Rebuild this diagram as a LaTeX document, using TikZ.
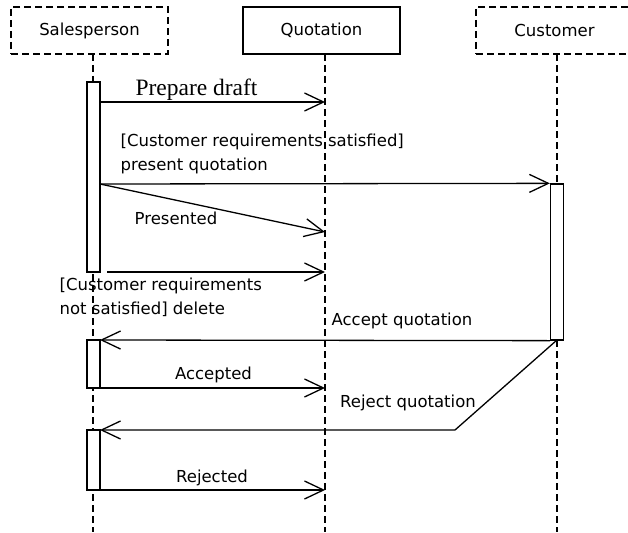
\documentclass[tikz,border=0pt]{standalone}
\usepackage{fontspec}
\setmainfont{DejaVu Sans}
\newfontfamily\serifa{Liberation Serif}
\usetikzlibrary{arrows.meta}
\begin{document}
\begin{tikzpicture}[x=1pt,y=-1pt,line width=1.3pt,
  txt/.style={font=\fontsize{16.5}{24}\selectfont, inner sep=0pt},
  head/.style={draw, minimum width=157pt, minimum height=47pt, inner sep=0pt, font=\fontsize{16.5}{20}\selectfont},
  dashedhead/.style={head, dash pattern=on 7pt off 4pt},
  life/.style={dash pattern=on 7pt off 4pt},
  act/.style={draw, fill=white, minimum width=13pt, inner sep=0pt},
  msg/.style={-{Straight Barb[length=19pt,width=18pt]}}]
\clip (0,0) rectangle (628,532);
\fill[white] (0,0) rectangle (628,532);
% heads
\node[dashedhead] (sp) at (89.5,30.5) {Salesperson};
\node[head] (qu) at (321.5,30.5) {Quotation};
\node[dashedhead] (cu) at (554.5,30.5) {Customer};
% lifeline ends
\coordinate (spTop) at (93,54);
\coordinate (spBot) at (93,532);
\coordinate (quTop) at (325,54);
\coordinate (quBot) at (325,532);
\coordinate (cuTop) at (557,54);
\coordinate (cuBot) at (557,532);
\draw[life] (spTop) -- (spBot);
\draw[life] (quTop) -- (quBot);
\draw[life] (cuTop) -- (cuBot);
% activations
\node[act, minimum height=190pt] (a1) at (93.5,177) {};
\node[act, minimum height=156pt] (c1) at (557,262) {};
\node[act, minimum height=48pt] (a2) at (93.5,364) {};
\node[act, minimum height=60pt] (a3) at (93.5,460) {};
% message points
\coordinate (q1) at (325,102);
\coordinate (s1) at (100,102);
\coordinate (s2) at (100,184);
\coordinate (q2) at (325,232);
\coordinate (s3) at (107,272);
\coordinate (q3) at (325,272);
\coordinate (s4) at (100,340);
\coordinate (s5) at (100,388);
\coordinate (q5) at (325,388);
\coordinate (c6) at (557,340);
\coordinate (k6) at (455,430);
\coordinate (s6) at (100,430);
\coordinate (s7) at (100,490);
\coordinate (q7) at (325,490);
% messages
\draw[msg] (s1) -- (q1);
\draw[msg] (s2) -- (c1.north west);
\draw[msg] (s2) -- (q2);
\draw[msg] (s3) -- (q3);
\draw[msg] (c1.south west) -- (s4);
\draw[msg] (s5) -- (q5);
\draw[msg] (c6) -- (k6) -- (s6);
\draw[msg] (s7) -- (q7);
% labels
\node[font=\serifa\fontsize{23.5}{26}\selectfont, inner sep=0pt] (l1) at (196.5,90) {Prepare draft};
\node[txt, align=left, anchor=west] (l2) at (120,154) {[Customer requirements satisfied]\\present quotation};
\node[txt] (l3) at (176,218) {Presented};
\node[txt, align=left, anchor=west] (l4) at (59,297.5) {[Customer requirements\\not satisfied] delete};
\node[txt] (l5) at (402,321) {Accept quotation};
\node[txt] (l6) at (213.5,374.5) {Accepted};
\node[txt] (l7) at (408,402.5) {Reject quotation};
\node[txt] (l8) at (212,477.5) {Rejected};
\end{tikzpicture}
\end{document}
